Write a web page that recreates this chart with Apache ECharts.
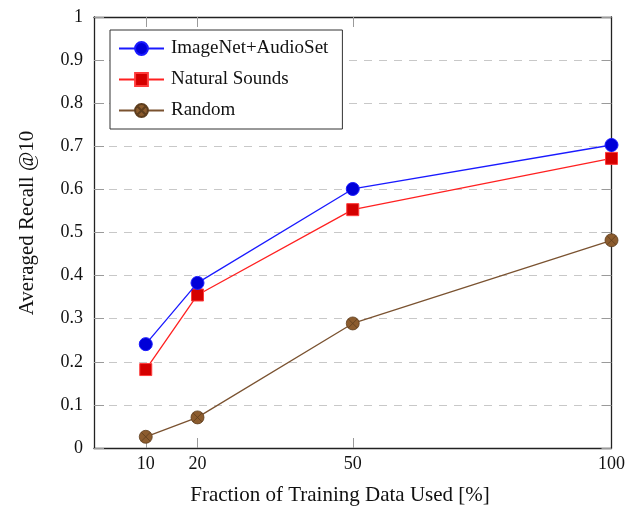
<!DOCTYPE html>
<html>
<head>
<meta charset="utf-8">
<script src="https://cdn.jsdelivr.net/npm/echarts@6/dist/echarts.min.js"></script>
<style>
  html, body { margin: 0; padding: 0; background: #fff; }
  #chart { width: 628px; height: 507px; }
</style>
</head>
<body>
<div id="chart"></div>
<script>
// Training-data fractions (x) and recall values per pretraining setup
const fractions = [10, 20, 50, 100];
const xTickLabels = [10, 20, 50, 100];
const xTickMarks = [10, 20, 50];
const yTickLabels = ['0', '0.1', '0.2', '0.3', '0.4', '0.5', '0.6', '0.7', '0.8', '0.9', '1'];
const imagenetAudioset = [0.241, 0.383, 0.601, 0.703];
const naturalSounds = [0.182, 0.355, 0.553, 0.672];
const randomInit = [0.026, 0.071, 0.289, 0.482];

const FONT = 'Liberation Serif';
const pair = (ys) => fractions.map((x, i) => [x, ys[i]]);

// circle with an X through it
const crossCircle = 'path://M5,0 A5,5 0 1,1 5,10 A5,5 0 1,1 5,0 Z M1.46,1.46 L8.54,8.54 M8.54,1.46 L1.46,8.54';

const chart = echarts.init(document.getElementById('chart'), null, { renderer: 'canvas' });

const tickStyle = { show: true, inside: true, length: 10, lineStyle: { color: '#9a9a9a', width: 1 } };
const frameLine = { show: true, onZero: false, lineStyle: { color: '#222', width: 1.3 } };

chart.setOption({
  animation: false,
  backgroundColor: '#fff',
  textStyle: { fontFamily: FONT },
  grid: { left: 94, right: 15, top: 17, bottom: 59, containLabel: false },
  legend: {
    left: 110,
    top: 30,
    orient: 'vertical',
    backgroundColor: '#fff',
    borderColor: '#333',
    borderWidth: 1,
    padding: [9, 14, 9, 8],
    itemWidth: 45,
    itemHeight: 16,
    itemGap: 12,
    textStyle: { fontFamily: FONT, fontSize: 19, color: '#111', padding: [0, 0, 0, 2] },
    data: ['ImageNet+AudioSet', 'Natural Sounds', 'Random']
  },
  graphic: [
    {
      type: 'text', x: 340, y: 495, z: 10,
      style: {
        text: 'Fraction of Training Data Used [%]',
        font: '21px "Liberation Serif"', fill: '#111',
        textAlign: 'center', textVerticalAlign: 'middle'
      }
    },
    {
      type: 'text', x: 27, y: 223, rotation: Math.PI / 2, z: 10,
      style: {
        text: 'Averaged Recall @10',
        font: '21px "Liberation Serif"', fill: '#111',
        textAlign: 'center', textVerticalAlign: 'middle'
      }
    }
  ],
  xAxis: [
    {
      type: 'value', min: 0, max: 100, position: 'bottom',
      axisLine: frameLine,
      axisTick: Object.assign({ customValues: xTickMarks }, tickStyle),
      axisLabel: { customValues: xTickLabels, fontFamily: FONT, fontSize: 18, color: '#111', margin: 7 },
      splitLine: { show: false }
    },
    {
      type: 'value', min: 0, max: 100, position: 'top',
      axisLine: frameLine,
      axisTick: Object.assign({ customValues: xTickMarks }, tickStyle),
      axisLabel: { show: false },
      splitLine: { show: false }
    }
  ],
  yAxis: [
    {
      type: 'value', min: 0, max: 1, interval: 0.1, position: 'left',
      axisLine: frameLine,
      axisTick: tickStyle,
      axisLabel: {
        fontFamily: FONT, fontSize: 18, color: '#111', margin: 11,
        formatter: (v) => yTickLabels[Math.round(v * 10)]
      },
      splitLine: { show: true, lineStyle: { color: '#c8c8c8', width: 1, type: [8, 7] } }
    },
    {
      type: 'value', min: 0, max: 1, interval: 0.1, position: 'right',
      axisLine: frameLine,
      axisTick: tickStyle,
      axisLabel: { show: false },
      splitLine: { show: false }
    }
  ],
  series: [
    {
      name: 'ImageNet+AudioSet', type: 'line', data: pair(imagenetAudioset),
      symbol: 'circle', symbolSize: 13, clip: false, z: 4,
      lineStyle: { color: '#1a1aff', width: 1.3 },
      itemStyle: { color: '#0000d8', borderColor: '#1a1aff', borderWidth: 1 }
    },
    {
      name: 'Natural Sounds', type: 'line', data: pair(naturalSounds),
      symbol: 'rect', symbolSize: 12, clip: false, z: 3,
      lineStyle: { color: '#ff2020', width: 1.3 },
      itemStyle: { color: '#d40000', borderColor: '#ff3b3b', borderWidth: 1 }
    },
    {
      name: 'Random', type: 'line', data: pair(randomInit),
      symbol: crossCircle, symbolSize: 13, clip: false, z: 2,
      lineStyle: { color: '#7a5230', width: 1.3 },
      itemStyle: { color: '#8c5c2e', borderColor: '#5e3e1e', borderWidth: 0.8 }
    }
  ]
});
</script>
</body>
</html>
